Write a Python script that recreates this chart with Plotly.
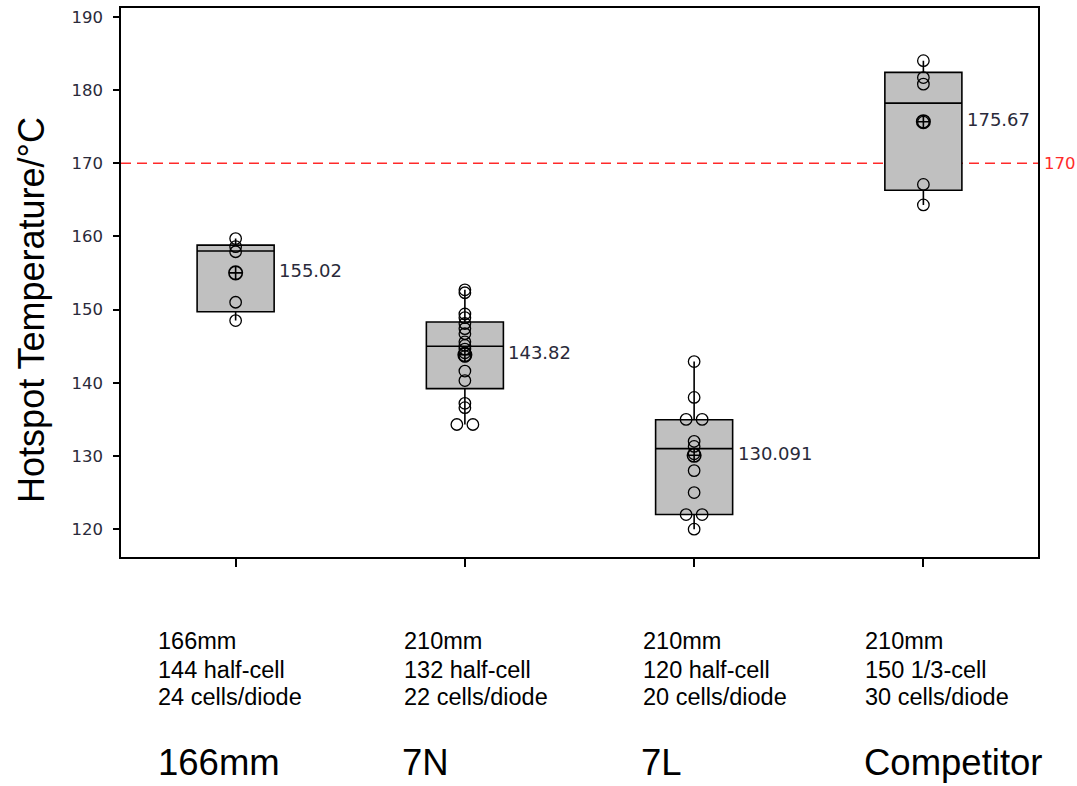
import numpy as np
import plotly.graph_objects as go

# ---- data -------------------------------------------------------------
groups = ["166mm", "7N", "7L", "Competitor"]
spec_size = ["166mm", "210mm", "210mm", "210mm"]
spec_cells = ["144 half-cell", "132 half-cell", "120 half-cell", "150 1/3-cell"]
spec_diode = ["24 cells/diode", "22 cells/diode", "20 cells/diode", "30 cells/diode"]

temps_166 = [159.7, 158.6, 157.9, 151.0, 148.5]
temps_7n = [152.7, 152.3, 149.4, 148.9, 148.1, 147.4, 146.7, 145.6, 145.1,
            144.6, 144.1, 143.6, 141.6, 140.3, 137.2, 136.6, 134.3, 134.3]
temps_7l = [142.9, 138.0, 135.0, 135.0, 132.0, 131.3, 130.3, 128.0, 125.0,
            122.0, 122.0, 120.0]
temps_comp = [184.0, 181.7, 180.8, 175.6, 167.1, 164.3]
temps = [temps_166, temps_7n, temps_7l, temps_comp]

q1 = [149.7, 139.2, 122.0, 166.3]
median = [158.0, 145.0, 131.0, 178.2]
q3 = [158.8, 148.3, 134.95, 182.4]
means = [155.02, 143.82, 130.091, 175.67]
mean_labels = ["155.02", "143.82", "130.091", "175.67"]

limit = 170

# ---- styling -----------------------------------------------------------
W, H = 1077, 786
L, R, T, B = 121, 39, 6, 229
plot_w, plot_h = W - L - R, H - T - B
box_w = 0.336
dodge = 0.07
tick_color = "#2a2a3a"

fig = go.Figure()

for i, vals in enumerate(temps):
    fig.add_trace(go.Box(
        x=[i], q1=[q1[i]], median=[median[i]], q3=[q3[i]],
        lowerfence=[min(vals)], upperfence=[max(vals)],
        width=box_w, whiskerwidth=0, boxpoints=False,
        fillcolor="#c0c0c0", line=dict(color="black", width=1.6),
        showlegend=False, hoverinfo="skip",
    ))

# individual values, equal readings placed side by side
px, py = [], []
for i, vals in enumerate(temps):
    seen = {}
    for v in vals:
        seen[v] = seen.get(v, 0) + 1
    for v, n in seen.items():
        for k in range(n):
            px.append(i + (k - (n - 1) / 2) * dodge)
            py.append(v)
fig.add_trace(go.Scatter(
    x=px, y=py, mode="markers", showlegend=False,
    marker=dict(symbol="circle-open", size=11.5, color="black",
                line=dict(width=1.3, color="black")),
))

# group means
fig.add_trace(go.Scatter(
    x=list(range(len(groups))), y=means, mode="markers", showlegend=False,
    marker=dict(symbol="circle-cross-open", size=13.5, color="black",
                line=dict(width=1.6, color="black")),
))
for i, (m, lab) in enumerate(zip(means, mean_labels)):
    fig.add_annotation(x=i + box_w / 2, y=m, text=lab, showarrow=False,
                       xanchor="left", yanchor="middle", xshift=3, yshift=2,
                       font=dict(family="DejaVu Sans", size=18, color=tick_color))

# limit line
fig.add_shape(type="line", xref="paper", x0=0, x1=1, y0=limit, y1=limit,
              layer="below", line=dict(color="#ff2a2a", width=1.5, dash="10px,6px"))
fig.add_annotation(xref="paper", x=1, y=limit, text=str(limit), showarrow=False,
                   xanchor="left", yanchor="middle", xshift=4,
                   font=dict(family="DejaVu Sans", size=16.5, color="#ff2a2a"))

# category descriptions below the axis
def paper_x(pix):
    return (pix - L) / plot_w

def paper_y(pix):
    return (H - B - pix) / plot_h

spec_left = [156, 402, 641, 863]
name_left = [157, 401, 640, 863]
for i in range(len(groups)):
    for txt, yy in zip([spec_size[i], spec_cells[i], spec_diode[i]], [641, 670, 698]):
        fig.add_annotation(xref="paper", yref="paper", x=paper_x(spec_left[i]),
                           y=paper_y(yy), text=txt, showarrow=False,
                           xanchor="left", yanchor="middle",
                           font=dict(family="Liberation Sans", size=23.5, color="black"))
    fig.add_annotation(xref="paper", yref="paper", x=paper_x(name_left[i]),
                       y=paper_y(785), text=groups[i], showarrow=False,
                       xanchor="left", yanchor="bottom", borderpad=0,
                       font=dict(family="Liberation Sans", size=36.5, color="black"))

fig.add_annotation(xref="paper", yref="paper", x=paper_x(32), y=paper_y(309),
                   text="Hotspot Temperature/°C", textangle=-90, showarrow=False,
                   xanchor="center", yanchor="middle",
                   font=dict(family="Liberation Sans", size=36, color="black"))

fig.update_layout(
    width=W, height=H, margin=dict(l=L, r=R, t=T, b=B),
    plot_bgcolor="white", paper_bgcolor="white", showlegend=False,
)
fig.update_xaxes(range=[-0.5, 3.5], tickvals=list(range(len(groups))),
                 showticklabels=False, ticks="outside", ticklen=8, tickwidth=1.5,
                 tickcolor="black", showline=True, linecolor="black", linewidth=1.6,
                 mirror=True, showgrid=False, zeroline=False)
fig.update_yaxes(range=[116.2, 191.2], tickvals=list(range(120, 191, 10)),
                 ticks="outside", ticklen=6, tickwidth=1.5, tickcolor="black",
                 showline=True, linecolor="black", linewidth=1.6, mirror=True,
                 showgrid=False, zeroline=False, ticklabelstandoff=7,
                 tickfont=dict(family="DejaVu Sans", size=16.5, color=tick_color))

fig.write_html("out.html")
